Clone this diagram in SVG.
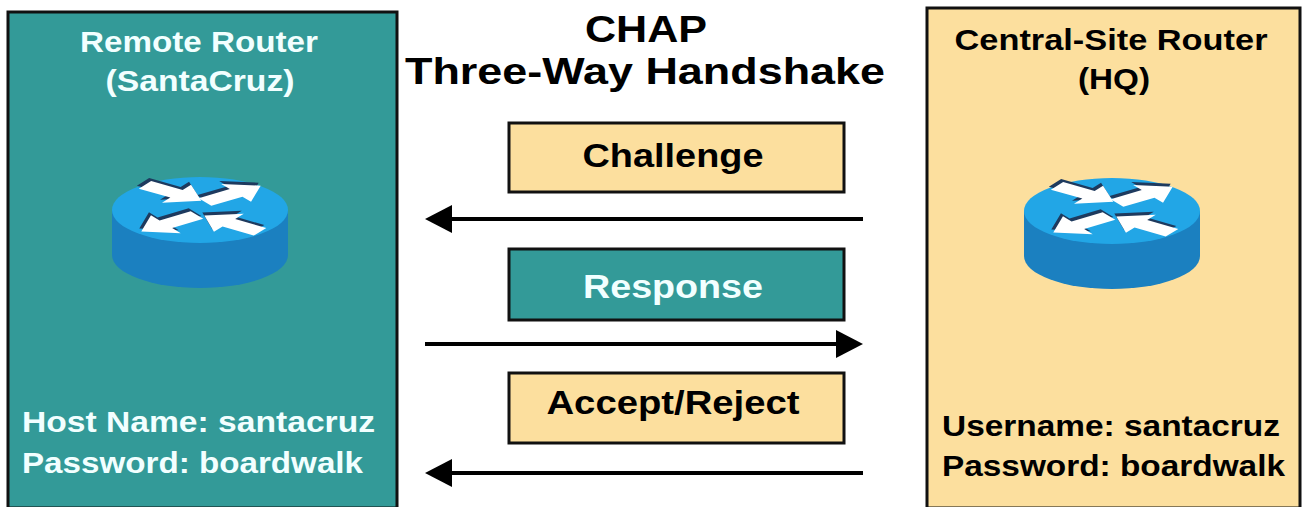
<svg xmlns="http://www.w3.org/2000/svg" xmlns:xlink="http://www.w3.org/1999/xlink" width="1305" height="507" viewBox="0 0 1305 507">
  <style>
    .teal { fill: #339A98; stroke: #111; stroke-width: 3; }
    .sand { fill: #FCDF9E; stroke: #111; stroke-width: 3; }
    .t { font-family: "Liberation Sans", Arial, sans-serif; font-weight: bold; }
    .w { fill: #F2FFFF; }
    .k { fill: #000; }
    .lbl { font-size: 30px; }
    .mid { font-size: 33px; }
    .ttl { font-size: 37px; }
    .conn { stroke: #000; stroke-width: 4; fill: none; }
    .rtop { fill: #22A6E6; }
    .rside { fill: #1B80C0; }
    .ra { fill: #FFFFFF; }
    .rs { fill: #1E3A5E; }
  </style>
  <defs>
    <marker id="ah" viewBox="0 0 27 28" refX="17" refY="14" markerWidth="27" markerHeight="28" markerUnits="userSpaceOnUse" orient="auto">
      <path d="M0,0 L27,14 L0,28 z" fill="#000"/>
    </marker>
    <polygon id="arr" points="0,-11 38,-11 38,-26 68,0 38,26 38,11 0,11"/>
    <g id="router">
      <path class="rside" d="M-88,0 L-88,45 A88,33 0 0 0 88,45 L88,0 z"/>
      <ellipse class="rtop" cx="0" cy="0" rx="88" ry="33"/>
      <g transform="scale(1,0.42)">
        <g class="rs">
          <use xlink:href="#arr" href="#arr" transform="translate(-57,-67) rotate(34)"/>
          <use xlink:href="#arr" href="#arr" transform="translate(3,-26) rotate(-35)"/>
          <use xlink:href="#arr" href="#arr" transform="translate(-5,5) rotate(145)"/>
          <use xlink:href="#arr" href="#arr" transform="translate(58,45) rotate(215)"/>
        </g>
        <g class="ra">
          <use xlink:href="#arr" href="#arr" transform="translate(-55,-60) rotate(34)"/>
          <use xlink:href="#arr" href="#arr" transform="translate(5,-19) rotate(-35)"/>
          <use xlink:href="#arr" href="#arr" transform="translate(-3,12) rotate(145)"/>
          <use xlink:href="#arr" href="#arr" transform="translate(60,52) rotate(215)"/>
        </g>
      </g>
    </g>
  </defs>

  <rect width="1305" height="507" fill="#FFFFFF"/>

  <g id="remote-router">
    <rect class="teal" x="8" y="12" width="389" height="496"/>
    <text class="t w lbl" x="199" y="52" text-anchor="middle" textLength="238" lengthAdjust="spacingAndGlyphs">Remote Router</text>
    <text class="t w lbl" x="200" y="91" text-anchor="middle" textLength="189" lengthAdjust="spacingAndGlyphs">(SantaCruz)</text>
    <use xlink:href="#router" href="#router" transform="translate(200,210)"/>
    <text class="t w lbl" x="22" y="432" textLength="353" lengthAdjust="spacingAndGlyphs">Host Name: santacruz</text>
    <text class="t w lbl" x="22" y="473" textLength="341" lengthAdjust="spacingAndGlyphs">Password: boardwalk</text>
  </g>

  <g id="central-router">
    <rect class="sand" x="927" y="8" width="373" height="500"/>
    <text class="t k lbl" x="1111" y="50" text-anchor="middle" textLength="313" lengthAdjust="spacingAndGlyphs">Central-Site Router</text>
    <text class="t k lbl" x="1114" y="89" text-anchor="middle" textLength="72" lengthAdjust="spacingAndGlyphs">(HQ)</text>
    <use xlink:href="#router" href="#router" transform="translate(1112,211)"/>
    <text class="t k lbl" x="942" y="436" textLength="338" lengthAdjust="spacingAndGlyphs">Username: santacruz</text>
    <text class="t k lbl" x="942" y="476" textLength="343" lengthAdjust="spacingAndGlyphs">Password: boardwalk</text>
  </g>

  <g id="title">
    <text class="t k ttl" x="646" y="41.5" text-anchor="middle" textLength="122" lengthAdjust="spacingAndGlyphs">CHAP</text>
    <text class="t k ttl" x="645" y="83.5" text-anchor="middle" textLength="480" lengthAdjust="spacingAndGlyphs">Three-Way Handshake</text>
  </g>

  <g id="challenge">
    <rect class="sand" x="509" y="123" width="335" height="69"/>
    <text class="t k mid" x="673" y="167" text-anchor="middle" textLength="181" lengthAdjust="spacingAndGlyphs">Challenge</text>
  </g>

  <g id="response">
    <rect class="teal" x="509" y="249" width="335" height="71"/>
    <text class="t w mid" x="673" y="298" text-anchor="middle" textLength="180" lengthAdjust="spacingAndGlyphs">Response</text>
  </g>

  <g id="accept-reject">
    <rect class="sand" x="509" y="373" width="335" height="70"/>
    <text class="t k mid" x="673" y="414" text-anchor="middle" textLength="253" lengthAdjust="spacingAndGlyphs">Accept/Reject</text>
  </g>

  <g id="connectors">
    <line class="conn" x1="863" y1="219" x2="435" y2="219" marker-end="url(#ah)"/>
    <line class="conn" x1="425" y1="344" x2="853" y2="344" marker-end="url(#ah)"/>
    <line class="conn" x1="863" y1="473" x2="435" y2="473" marker-end="url(#ah)"/>
  </g>
</svg>
